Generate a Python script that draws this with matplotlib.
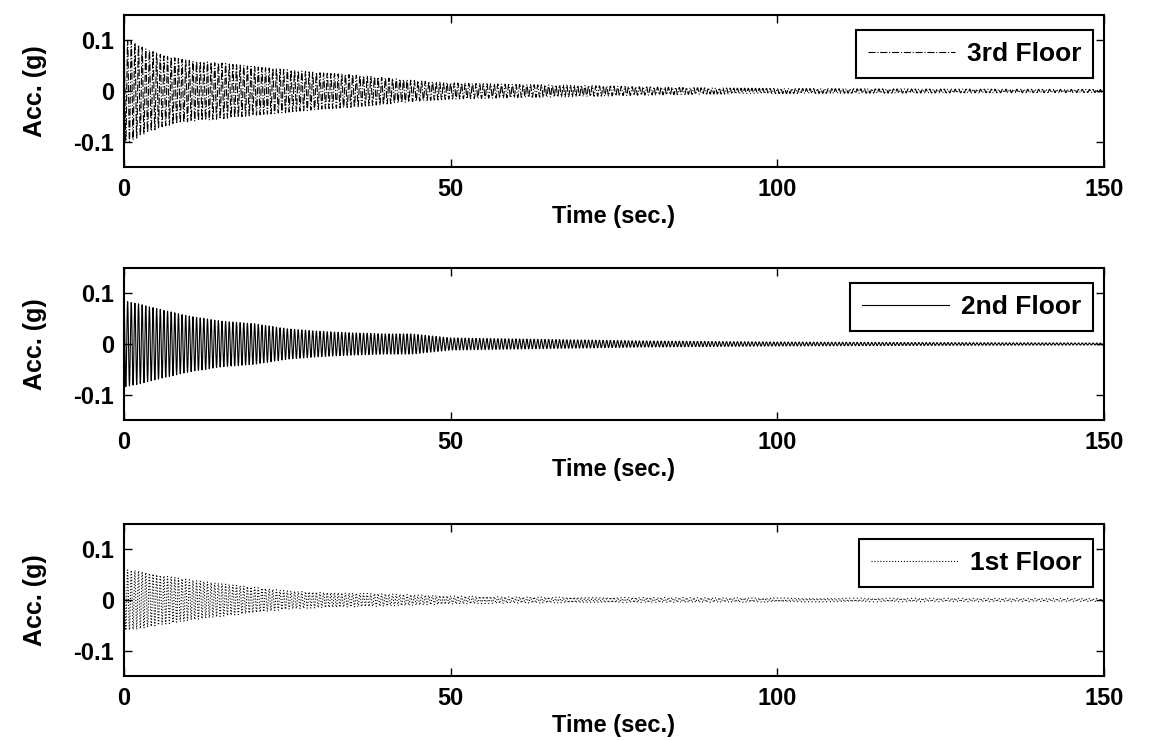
import numpy as np
import matplotlib.pyplot as plt

plt.rcParams['font.family'] = ['Liberation Sans', 'DejaVu Sans']
plt.rcParams['axes.unicode_minus'] = False

# envelope of the free vibration (time [s], peak acc [g])
t3 = [0, 1, 3, 6, 10, 15, 20, 25, 30, 35, 40, 45, 50, 60, 70, 80, 90, 100, 120, 150]
a3 = [0.10, 0.10, 0.085, 0.07, 0.06, 0.055, 0.048, 0.042, 0.036, 0.032, 0.026, 0.02,
      0.016, 0.013, 0.011, 0.008, 0.006, 0.005, 0.004, 0.003]

t2 = [0, 2, 5, 10, 15, 20, 25, 30, 35, 40, 44, 50, 60, 70, 80, 100, 120, 150]
a2 = [0.085, 0.08, 0.07, 0.055, 0.045, 0.04, 0.03, 0.025, 0.022, 0.02, 0.02, 0.012,
      0.01, 0.008, 0.006, 0.004, 0.003, 0.002]

t1 = [0, 2, 5, 10, 15, 20, 25, 30, 40, 50, 60, 80, 100, 150]
a1 = [0.06, 0.058, 0.05, 0.04, 0.032, 0.025, 0.018, 0.015, 0.012, 0.008, 0.006,
      0.005, 0.004, 0.003]

f_osc = 1.8      # oscillation frequency [Hz]
dt = 0.02

floors = ['3rd Floor', '2nd Floor', '1st Floor']
styles = ['-.', '-', ':']
env = [(t3, a3), (t2, a2), (t1, a1)]

tt = np.arange(0, 150 + dt, dt)

fig = plt.figure(figsize=(11.51, 7.41), dpi=100)
W, H = 1151.0, 741.0
tops = [15, 268, 524]
fs = 17

for i in range(3):
    top = tops[i]
    ax = fig.add_axes([124 / W, 1 - (top + 152) / H, 980 / W, 152 / H])
    amp = np.interp(tt, env[i][0], env[i][1])
    acc = amp * np.cos(2 * np.pi * f_osc * tt)
    ax.plot(tt, acc, styles[i], color='k', lw=0.8, label=floors[i])
    ax.set_xlim(0, 150)
    ax.set_ylim(-0.15, 0.15)
    ax.set_xticks([0, 50, 100, 150])
    ax.set_yticks([-0.1, 0, 0.1])
    ax.set_yticklabels(['-0.1', '0', '0.1'])
    ax.tick_params(direction='in', top=True, right=True, length=6, width=1,
                   labelsize=fs)
    ax.tick_params(axis='x', pad=8)
    ax.tick_params(axis='y', pad=7)
    for lab in ax.get_xticklabels() + ax.get_yticklabels():
        lab.set_fontweight('bold')
    for s in ax.spines.values():
        s.set_linewidth(1.5)
    ax.set_xlabel('Time (sec.)', fontsize=fs, fontweight='bold', labelpad=3)
    ax.set_ylabel('Acc. (g)', fontsize=18, fontweight='bold', labelpad=19)
    leg = ax.legend(loc='upper right', bbox_to_anchor=(0.989, 0.90),
                    fancybox=False, edgecolor='k', framealpha=1,
                    prop={'size': 19, 'weight': 'bold'}, handlelength=3.3,
                    borderpad=0.45, handletextpad=0.45, borderaxespad=0)
    leg.get_frame().set_linewidth(1.5)

fig.savefig('out.png', dpi=100)
